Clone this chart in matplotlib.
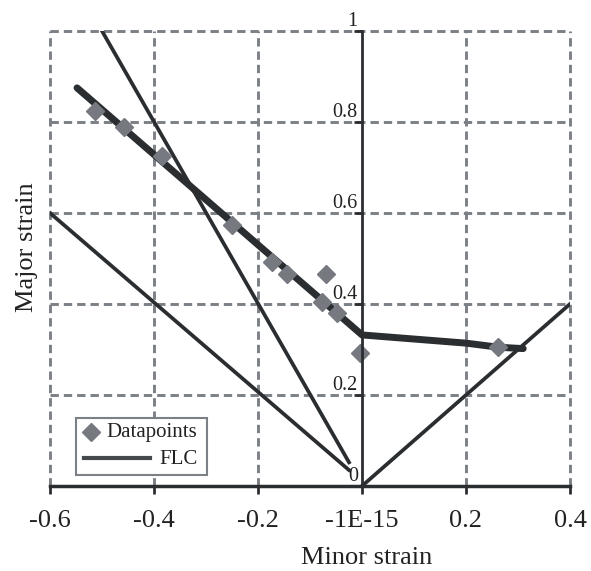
import numpy as np
import matplotlib
matplotlib.use("Agg")
import matplotlib.pyplot as plt
from matplotlib.patches import Rectangle
from matplotlib.lines import Line2D

plt.rcParams['font.family'] = ['Liberation Serif', 'DejaVu Serif']
plt.rcParams['lines.scale_dashes'] = False

# data
pts_x = [-0.513, -0.458, -0.385, -0.250, -0.173, -0.144, -0.069, -0.077, -0.048, -0.004, 0.262]
pts_y = [0.824, 0.789, 0.725, 0.574, 0.492, 0.466, 0.466, 0.404, 0.380, 0.292, 0.306]

flc_x = [-0.548, 0.0, 0.2, 0.262, 0.31]
flc_y = [0.875, 0.332, 0.314, 0.305, 0.302]

# straight reference lines
steep_x = [-0.5, -0.025]
steep_y = [1.0, 0.052]
neg_x = [-0.6, -0.025]
neg_y = [0.6, 0.035]
pos_x = [0.0, 0.4]
pos_y = [0.0, 0.4]

xticks = [-0.6, -0.4, -0.2, 0.0, 0.2, 0.4]
xtick_labels = ["-0.6", "-0.4", "-0.2", "-1E-15", "0.2", "0.4"]
yticks = [0.0, 0.2, 0.4, 0.6, 0.8, 1.0]
ytick_labels = ["0", "0.2", "0.4", "0.6", "0.8", "1"]

dark = "#2b2e31"
grid_c = "#7b8086"
pt_c = "#767a80"

W, H = 591, 571
fig = plt.figure(figsize=(W/100, H/100), dpi=100)
ax = fig.add_axes([50/W, 85/H, 520/W, 455/H])
ax.set_xlim(-0.6, 0.4)
ax.set_ylim(0, 1)

# dashed grid, including the outer frame
for gx in [-0.6, -0.4, -0.2, 0.2, 0.4]:
    ax.axvline(gx, color=grid_c, lw=2.1, ls=(0, (6, 3.6)), zorder=1, clip_on=False)
for gy in [0.2, 0.4, 0.6, 0.8, 1.0]:
    ax.axhline(gy, color=grid_c, lw=2.1, ls=(0, (6, 3.6)), zorder=1, clip_on=False)

ax.plot(steep_x, steep_y, color=dark, lw=2.7, zorder=3)
ax.plot(neg_x, neg_y, color=dark, lw=2.7, zorder=3)
ax.plot(pos_x, pos_y, color=dark, lw=2.7, zorder=3)
ax.plot(flc_x, flc_y, color=dark, lw=5, solid_capstyle='round', solid_joinstyle='round', zorder=4)
ax.plot(pts_x, pts_y, ls='none', marker='D', ms=9.5, color=pt_c, zorder=5)

for s in ['top', 'right']:
    ax.spines[s].set_visible(False)
ax.spines['left'].set_position(('data', 0))
ax.spines['left'].set_linewidth(2.0)
ax.spines['bottom'].set_linewidth(2.5)
ax.spines['left'].set_color(dark)
ax.spines['bottom'].set_color(dark)
ax.spines['left'].set_zorder(6)

ax.set_xticks(xticks)
ax.set_xticklabels(xtick_labels, fontsize=19, color="#222222")
ax.set_yticks(yticks)
ax.set_yticklabels(ytick_labels, fontsize=14.5, color="#222222", va='bottom')
ax.tick_params(axis='x', direction='out', length=6, width=2, color=dark, pad=11)
ax.tick_params(axis='y', direction='out', length=6, width=2, color=dark, pad=-3)

ax.set_xlabel("Minor strain", fontsize=19, color="#222222")
ax.xaxis.set_label_coords((367-50)/520, -0.135)
ax.set_ylabel("Major strain", fontsize=19, color="#222222")
ax.yaxis.set_label_coords(-0.024, 0.525)

# Excel-style legend box (pixel layout, y measured from the top)
def px(x, y):
    return x / W, 1 - y / H

x0, y0 = px(76, 475)
x1, y1 = px(207, 418)
fig.patches.append(Rectangle((x0, y0), x1 - x0, y1 - y0, transform=fig.transFigure,
                             facecolor="white", edgecolor=grid_c, lw=1.5, zorder=10))
mx, my = px(91, 432)
fig.lines.append(Line2D([mx], [my], ls='none', marker='D', ms=9, color=pt_c,
                        transform=fig.transFigure, zorder=11))
tx, ty = px(106, 433)
fig.text(tx, ty, "Datapoints", fontsize=15, color="#222222", va='center', ha='left', zorder=11)
lx0, ly = px(84, 458)
lx1, _ = px(150, 458)
fig.lines.append(Line2D([lx0, lx1], [ly, ly], color="#45494e", lw=3,
                        transform=fig.transFigure, zorder=11))
tx2, ty2 = px(159, 459)
fig.text(tx2, ty2, "FLC", fontsize=15, color="#222222", va='center', ha='left', zorder=11)

fig.savefig("out.png", dpi=100)
